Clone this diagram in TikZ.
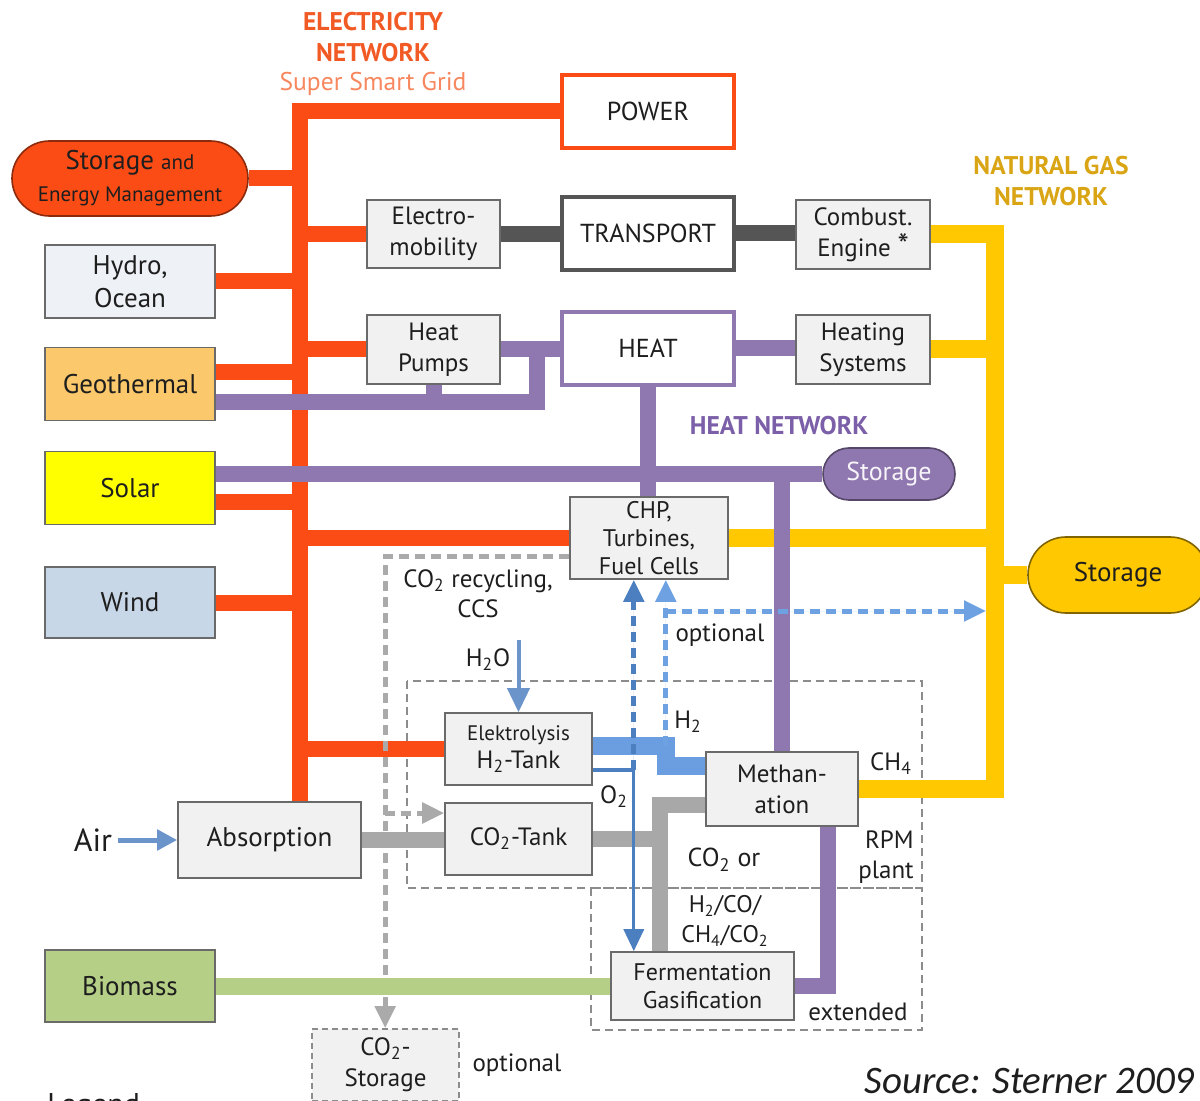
\documentclass[tikz,border=0pt]{standalone}
\usepackage{fontspec}
\setmainfont{PT Sans}
\newfontfamily\srcfont{Carlito}
\usetikzlibrary{arrows.meta,shapes.misc}
\pgfdeclarelayer{back}
\pgfsetlayers{back,main}

\definecolor{elecc}{HTML}{FC4C16}
\definecolor{elect}{HTML}{F25A25}
\definecolor{elecl}{HTML}{F7875E}
\definecolor{gasc}{HTML}{FFC800}
\definecolor{gast}{HTML}{D9A514}
\definecolor{heatc}{HTML}{8F77AF}
\definecolor{heatt}{HTML}{7B5FA8}
\definecolor{transc}{HTML}{555555}
\definecolor{co2c}{HTML}{A8A8A8}
\definecolor{ccsc}{HTML}{AAAAAA}
\definecolor{bioc}{HTML}{B5CF86}
\definecolor{h2c}{HTML}{6A9EE0}
\definecolor{o2c}{HTML}{4C7FC0}
\definecolor{optc}{HTML}{6EA1E2}
\definecolor{h2oc}{HTML}{6B94CB}
\definecolor{boxfill}{HTML}{F1F1F1}
\definecolor{boxline}{HTML}{6A6A6A}
\definecolor{dashc}{HTML}{8C8C8C}
\definecolor{hydroc}{HTML}{EEF2F7}
\definecolor{geoc}{HTML}{FBC96B}
\definecolor{solarc}{HTML}{FFFF00}
\definecolor{windc}{HTML}{C8D7E7}
\definecolor{ink}{HTML}{1E1E1E}

\begin{document}
\begin{tikzpicture}[x=0.5pt, y=-0.5pt,
    unitbox/.style={draw=boxline, fill=boxfill, line width=0.8pt, inner sep=0pt, align=center, text=ink, font=\fontsize{12.5}{15.5}\selectfont},
    srcbox/.style={unitbox, minimum width=85pt, minimum height=36.5pt, font=\fontsize{13.5}{16.5}\selectfont},
    hubbox/.style={draw, fill=white, line width=2pt, inner sep=0pt, minimum width=86pt, minimum height=36.5pt, text=ink, font=\fontsize{13}{16}\selectfont},
    pillbox/.style={rounded rectangle, draw, line width=0.8pt, inner sep=0pt, align=center, text=ink},
    netname/.style={align=center, inner sep=0pt, font=\bfseries\fontsize{12.8}{15.5}\selectfont},
    lbl/.style={align=center, inner sep=0pt, text=ink, font=\fontsize{12.5}{15}\selectfont},
    elec/.style={draw=elecc, line width=8pt},
    heatl/.style={draw=heatc, line width=8pt},
    gasl/.style={draw=gasc, line width=9pt},
    trans/.style={draw=transc, line width=8pt},
    cotwo/.style={draw=co2c, line width=8pt},
    bio/.style={draw=bioc, line width=8.5pt},
    hyd/.style={draw=h2c, line width=9pt},
    flowtip/.style={-{Triangle[length=11pt,width=10pt]}},
    optline/.style={line width=2.5pt, dash pattern=on 5pt off 3pt, flowtip},
    ccsline/.style={draw=ccsc, line width=2.5pt, dash pattern=on 5pt off 3pt, flowtip},
    rpmbox/.style={draw=dashc, line width=0.7pt, dash pattern=on 4pt off 2.5pt}
  ]
  \useasboundingbox (0,0) rectangle (1200,1101);

  \node[netname, text=elect] (elname) at (373,37.5) {ELECTRICITY\\NETWORK};
  \node[lbl, text=elecl, font=\fontsize{12.8}{14}\selectfont] (grid) at (373,84) {Super Smart Grid};
  \node[netname, text=gast] (gasname) at (1051,181) {NATURAL GAS\\NETWORK};
  \node[netname, text=heatt] (heatname) at (779,426) {HEAT NETWORK};

  \node[hubbox, draw=elecc] (power) at (648,111.5) {POWER};
  \node[hubbox, draw=transc] (transport) at (648,233.5) {TRANSPORT};
  \node[hubbox, draw=heatc] (heat) at (648,348.5) {HEAT};

  \node[pillbox, fill=elecc, draw=elecc!55!black, minimum width=118pt, minimum height=37.5pt, font=\fontsize{13.5}{16}\selectfont] (stem) at (130,178.5)
    {Storage {\fontsize{10.5}{12}\selectfont and}\\{\fontsize{10.5}{12}\selectfont Energy Management}};
  \node[srcbox, fill=hydroc] (hydro) at (130,281.5) {Hydro,\\Ocean};
  \node[srcbox, fill=geoc] (geo) at (130,384) {Geothermal};
  \node[srcbox, fill=solarc] (solar) at (130,488) {Solar};
  \node[srcbox, fill=windc, minimum height=35.5pt] (wind) at (130,602.5) {Wind};
  \node[srcbox, fill=bioc, minimum height=36pt] (biomass) at (130,986) {Biomass};

  \node[unitbox, minimum width=66.5pt, minimum height=34pt] (emob) at (433.5,234) {Electro-\\mobility};
  \node[unitbox, minimum width=66.5pt, minimum height=34.5pt] (hpump) at (433.5,349.5) {Heat\\Pumps};
  \node[unitbox, minimum width=67pt, minimum height=34.5pt] (comb) at (863,234.5) {Combust.\\Engine {\fontsize{16}{16}\selectfont*}};
  \node[unitbox, minimum width=67pt, minimum height=34.5pt] (hsys) at (863,349.5) {Heating\\Systems};
  \node[pillbox, fill=heatc, draw=heatc!60!black, minimum width=66pt, minimum height=26pt, text=white!92!heatc, font=\fontsize{13}{15}\selectfont] (hstore) at (889,474) {Storage};
  \node[unitbox, minimum width=79pt, minimum height=41pt, font=\fontsize{12}{14}\selectfont] (chp) at (649,538) {CHP,\\Turbines,\\Fuel Cells};
  \node[pillbox, fill=gasc, draw=gasc!50!black, minimum width=90pt, minimum height=38pt, font=\fontsize{13.5}{15}\selectfont] (gstore) at (1118,575) {Storage};
  \node[unitbox, minimum width=73.5pt, minimum height=36pt, font=\fontsize{12.5}{14}\selectfont] (elek) at (518.5,749) {{\fontsize{10.5}{12}\selectfont Elektrolysis}\\H\textsubscript{2}-Tank};
  \node[unitbox, minimum width=76pt, minimum height=37pt] (meth) at (782,789) {Methan-\\ation};
  \node[unitbox, minimum width=91.5pt, minimum height=38pt, font=\fontsize{13.5}{16}\selectfont] (absorb) at (269.5,840) {Absorption};
  \node[unitbox, minimum width=73.5pt, minimum height=36pt] (cotank) at (518.5,839) {CO\textsubscript{2}-Tank};
  \node[unitbox, minimum width=91.5pt, minimum height=34pt, font=\fontsize{12}{14}\selectfont] (ferm) at (702.5,986) {Fermentation\\Gasification};
  \node[unitbox, draw=dashc, dash pattern=on 3pt off 2pt, minimum width=73.5pt, minimum height=36pt] (costore) at (385.5,1065) {CO\textsubscript{2}-\\Storage};

  \node[lbl] (ccslbl) at (478,594) {CO\textsubscript{2} recycling,\\CCS};
  \node[lbl] (h2olbl) at (488,660) {H\textsubscript{2}O};
  \node[lbl] (optlbl) at (720,635) {optional};
  \node[lbl] (h2lbl) at (688,722) {H\textsubscript{2}};
  \node[lbl] (ch4lbl) at (891,764) {CH\textsubscript{4}};
  \node[lbl] (o2lbl) at (614,797) {O\textsubscript{2}};
  \node[lbl, font=\fontsize{13}{15}\selectfont] (colbl) at (724,860) {CO\textsubscript{2} or};
  \node[lbl, font=\fontsize{12}{15}\selectfont] (gaslbl) at (725,921) {H\textsubscript{2}/CO/\\CH\textsubscript{4}/CO\textsubscript{2}};
  \node[lbl, align=right] (rpmlbl) at (886,857) {RPM\\plant};
  \node[lbl] (extlbl) at (858,1012) {extended};
  \node[lbl] (optlbl2) at (517,1065) {optional};
  \node[lbl, font=\fontsize{16}{18}\selectfont] (air) at (93,840) {Air};
  \node[anchor=base east, inner sep=0pt, text=ink, font=\srcfont\itshape\fontsize{19.5}{22}\selectfont] (source) at (1195,1093) {Source: Sterner 2009};
  \node[lbl, anchor=north west, font=\fontsize{15}{17}\selectfont] (legend) at (47,1093) {Legend};

  \coordinate (ebus) at (300,0);
  \coordinate (gbus) at (995,0);
  \coordinate (cbus) at (660,0);
  \coordinate (optrow) at (0,611);
  \coordinate (h2oin) at (518.5,640);

  \begin{pgfonlayer}{back}
    \draw[rpmbox] (407,681) rectangle (922,888);
    \draw[rpmbox] (591,888) rectangle (922,1030);

    \draw[elec] (power.west) -| (ebus |- absorb.north);
    \foreach \n in {stem,hydro,wind} \draw[elec] (\n.east) -- (\n.east -| ebus);
    \draw[elec] ([yshift=6pt]geo.east) coordinate (g1) -- (g1 -| ebus);
    \draw[elec] ([yshift=-7pt]solar.east) coordinate (s1) -- (s1 -| ebus);
    \foreach \n in {emob,hpump,chp,elek} \draw[elec] (\n.west) -- (\n.west -| ebus);

    \draw[ccsline] ([yshift=-9.5pt]chp.west) -- ++(-184,0) coordinate (ccs) -- (ccs |- costore.north);
    \coordinate (ccsin) at ([yshift=13pt]cotank.west);
    \draw[ccsline] (ccs |- ccsin) -- (ccsin);

    \draw[trans] (emob.east) -- (emob.east -| transport.west);
    \draw[trans] (transport.east) -- (transport.east -| comb.west);

    \draw[heatl] (hpump.east) -- (hpump.east -| heat.west);
    \draw[heatl] ([yshift=-9pt]geo.east) coordinate (g2) -| (537,349.5);
    \draw[heatl] (hpump.south) -- (hpump.south |- g2);
    \draw[heatl] (heat.east) -- (heat.east -| hsys.west);
    \draw[heatl] (heat.south) -- (heat.south |- chp.north);
    \draw[heatl] (hstore.west) -- (hstore.west -| solar.east);

    \draw[gasl] (comb.east) -| (gbus |- meth.east) -- (meth.east);
    \foreach \n in {hsys,chp} \draw[gasl] (\n.east) -- (\n.east -| gbus);
    \draw[gasl] (gstore.west) -- (gstore.west -| gbus);

    \draw[heatl] (meth.north) -- (meth.north |- hstore.west);
    \draw[heatl] (ferm.east) -| ([xshift=23pt]meth.south);

    \draw[cotwo] (absorb.east) -- (absorb.east -| cotank.west);
    \draw[cotwo] ([yshift=-8pt]meth.west) -| (cbus |- ferm.north);
    \draw[cotwo] (cotank.east) -- (cotank.east -| cbus);
    \draw[bio] (biomass.east) -- (biomass.east -| ferm.west);

    \draw[hyd] ([yshift=1.5pt]elek.east) -- ++(73,0) coordinate (h2j) |- ([yshift=11.5pt]meth.west);
    \draw[draw=o2c, line width=1.6pt, flowtip] ([yshift=-10.5pt]elek.east) -- ++(41,0) coordinate (o2j) -- (o2j |- ferm.north);
    \draw[optline, draw=o2c, fill=o2c] (o2j) -- (o2j |- chp.south);
    \draw[optline, draw=optc, fill=optc] (h2j) -- (h2j |- chp.south);
    \draw[optline, draw=optc, fill=optc, shorten >=4.5pt] (h2j |- optrow) -- (gbus |- optrow);

    \draw[draw=h2oc, line width=2pt, -{Triangle[length=12pt,width=11pt]}] (h2oin) -- (elek.north);
    \draw[draw=h2oc, line width=2.5pt, shorten <=3pt, -{Triangle[length=10pt,width=10pt]}] (air.east) -- (absorb.west);
  \end{pgfonlayer}
\end{tikzpicture}
\end{document}
